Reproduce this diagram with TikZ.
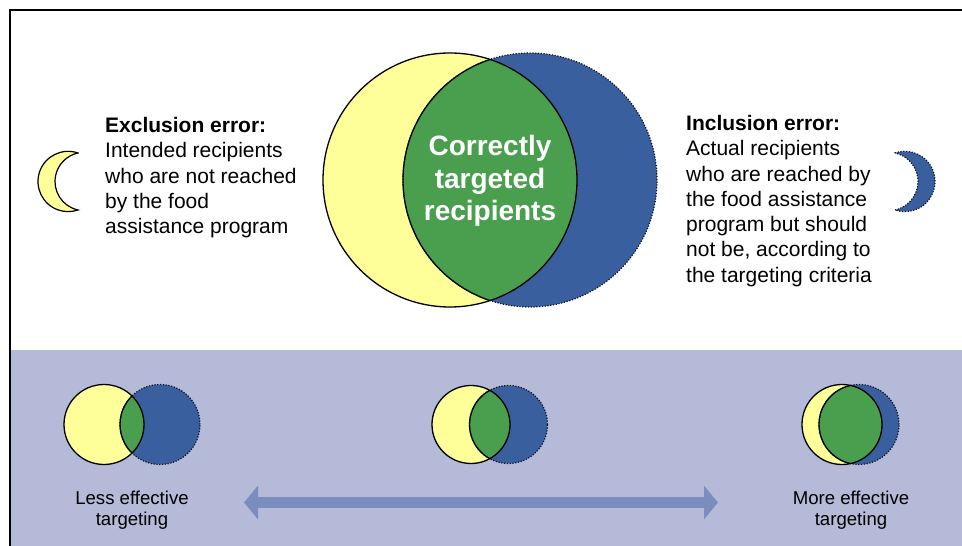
\documentclass[tikz,border=0pt]{standalone}
\usepackage{fontspec}
\setmainfont{Liberation Sans}
\usetikzlibrary{arrows.meta}
\definecolor{setyellow}{HTML}{FFFF99}
\definecolor{setblue}{HTML}{3A5F9E}
\definecolor{setgreen}{HTML}{4A9F4F}
\definecolor{bandlilac}{HTML}{B4BAD8}
\definecolor{arrowblue}{HTML}{7A8DBE}
\begin{document}
\begin{tikzpicture}[x=1pt,y=1pt]
\tikzset{
  yellowset/.style={fill=setyellow},
  blueset/.style={fill=setblue},
  greenset/.style={fill=setgreen},
  solidedge/.style={draw=black,line width=1.3pt},
  dotedge/.style={draw=black!80!setblue,line width=1.2pt,dash pattern=on 1.2pt off 1.6pt},
  errtext/.style={inner sep=0pt,anchor=north west,align=left,font=\fontsize{21}{25.3}\selectfont},
  scaletext/.style={inner sep=0pt,align=center,font=\fontsize{18.6}{21.5}\selectfont},
  bigarrow/.style={draw=arrowblue,line width=11pt,
    {Triangle[length=14pt,width=33pt]}-{Triangle[length=14pt,width=33pt]}}
}
\useasboundingbox (0,0) rectangle (962,546);
% frame and lower band
\fill[bandlilac] (10.75,0) rectangle (962,196);
\draw[line width=1.5pt] (962,536) -- (10,536) -- (10,0);
% venn pairs: centre x, centre y, shift, radius
\foreach \cx/\cy/\d/\r in {450/366/80/127, 104/121.5/56/40, 471/121.5/37.5/39, 842/121.5/17/40}{
  \fill[blueset] (\cx+\d,\cy) circle (\r);
  \fill[yellowset] (\cx,\cy) circle (\r);
  \begin{scope}
    \clip (\cx,\cy) circle (\r);
    \fill[greenset] (\cx+\d,\cy) circle (\r);
    \draw[solidedge] (\cx+\d,\cy) circle (\r);
  \end{scope}
  \draw[dotedge] (\cx+\d,\cy) circle (\r);
  \draw[solidedge] (\cx,\cy) circle (\r);
}
\node[inner sep=0pt,align=center,text=white,font=\fontsize{28}{32.5}\selectfont\bfseries] (correct) at (490,365) {Correctly\\targeted\\recipients};
% crescents
\draw[yellowset,line width=1.2pt] (78,393) arc[start angle=70.9,end angle=289.1,radius=30.15]
  arc[start angle=257.8,end angle=102.2,radius=29.15] -- cycle;
\fill[blueset] (895,393) arc[start angle=109.1,end angle=-109.1,radius=30.15]
  arc[start angle=-77.8,end angle=77.8,radius=29.15] -- cycle;
\draw[dotedge] (895,393) arc[start angle=109.1,end angle=-109.1,radius=30.15]
  arc[start angle=-77.8,end angle=77.8,radius=29.15] -- cycle;
% error texts
\node[errtext] (exclusion) at (105,429) {\textbf{Exclusion error:}\\Intended recipients\\who are not reached\\by the food\\assistance program};
\node[errtext] (inclusion) at (686,431) {\textbf{Inclusion error:}\\Actual recipients\\who are reached by\\the food assistance\\program but should\\not be, according to\\the targeting criteria};
% targeting scale
\node[scaletext] (less) at (132,36) {Less effective\\targeting};
\node[scaletext] (more) at (851,36) {More effective\\targeting};
\coordinate (lessend) at (244,43.5);
\coordinate (moreend) at (718,43.5);
\draw[bigarrow] (lessend) -- (moreend);
\end{tikzpicture}
\end{document}
